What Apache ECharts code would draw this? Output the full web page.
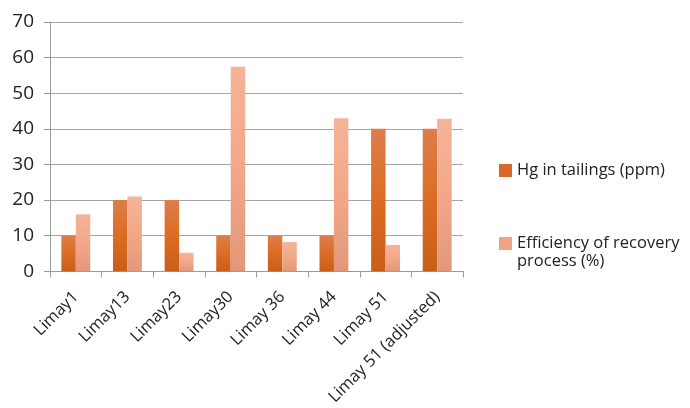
<!DOCTYPE html>
<html>
<head>
<meta charset="utf-8">
<script src="https://cdn.jsdelivr.net/npm/echarts@6/dist/echarts.min.js"></script>
<style>html,body{margin:0;padding:0;background:#fff}#c{width:690px;height:408px}</style>
</head>
<body>
<div id="c"></div>
<script>
// Sample sites and measured values
const categories = ['Limay1', 'Limay13', 'Limay23', 'Limay30', 'Limay 36', 'Limay 44', 'Limay 51', 'Limay 51 (adjusted)'];
const hgTailings = [10, 20, 20, 10, 10, 10, 40, 40];
const efficiency = [16, 21, 5.2, 57.4, 8.2, 43, 7.4, 42.8];
const yTicks = [0, 10, 20, 30, 40, 50, 60, 70];

const seriesNames = ['Hg in tailings (ppm)', 'Efficiency of recovery process (%)'];
const FONT = '"Open Sans", "Noto Sans", sans-serif';
const TEXT_COLOR = '#222';
const LEGEND_FONT = 16.5;

function grad(top, mid, bottom) {
  return new echarts.graphic.LinearGradient(0, 0, 0, 1, [
    { offset: 0, color: top },
    { offset: 0.5, color: mid },
    { offset: 1, color: bottom }
  ]);
}

const legendBase = {
  orient: 'vertical',
  left: 499,
  itemWidth: 13,
  itemHeight: 13,
  icon: 'rect',
  padding: 0,
  textStyle: { fontFamily: FONT, fontSize: LEGEND_FONT, color: TEXT_COLOR }
};

const chart = echarts.init(document.getElementById('c'), null, { renderer: 'canvas' });
chart.setOption({
  animation: false,
  backgroundColor: '#ffffff',
  grid: { left: 50, right: 227, top: 22, bottom: 136, containLabel: false },
  legend: [
    Object.assign({}, legendBase, {
      top: 162,
      data: [{ name: seriesNames[0], itemStyle: { color: '#d8682a' } }]
    }),
    Object.assign({}, legendBase, {
      top: 235,
      data: [{ name: seriesNames[1], itemStyle: { color: '#f0a484' } }],
      // the second half of this legend label wraps onto its own line below
      formatter: function () { return 'Efficiency of recovery'; }
    })
  ],
  graphic: [{
    type: 'text',
    left: 517,
    top: 253,
    style: { text: 'process (%)', fontFamily: FONT, fontSize: LEGEND_FONT, fill: TEXT_COLOR }
  }],
  xAxis: {
    type: 'category',
    data: categories,
    axisLine: { lineStyle: { color: '#9a9a9a', width: 1 } },
    axisTick: { show: true, length: 6, lineStyle: { color: '#9a9a9a' } },
    axisLabel: { rotate: 45, fontFamily: FONT, fontSize: 16.5, color: TEXT_COLOR, margin: 23, interval: 0 }
  },
  yAxis: {
    type: 'value',
    min: 0,
    max: 70,
    interval: 10,
    axisLine: { show: true, lineStyle: { color: '#9a9a9a' } },
    axisTick: { show: true, length: 6, lineStyle: { color: '#9a9a9a' } },
    splitLine: { lineStyle: { color: '#a6a6a6', width: 1 } },
    axisLabel: {
      fontFamily: FONT, fontSize: 19, color: TEXT_COLOR, margin: 16,
      formatter: function (v) { return yTicks.indexOf(v) >= 0 ? String(v) : ''; }
    }
  },
  series: [
    {
      name: seriesNames[0],
      type: 'bar',
      data: hgTailings,
      barGap: '0%',
      barCategoryGap: '44%',
      itemStyle: { color: grad('#dd7e4c', '#dc6c24', '#c95e18') }
    },
    {
      name: seriesNames[1],
      type: 'bar',
      data: efficiency,
      itemStyle: { color: grad('#f6b398', '#f2a888', '#e2977a') }
    }
  ]
});
</script>
</body>
</html>
